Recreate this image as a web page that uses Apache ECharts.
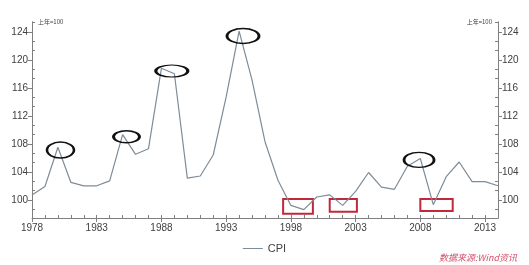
<!DOCTYPE html>
<html>
<head>
<meta charset="utf-8">
<script src="https://cdn.jsdelivr.net/npm/echarts@6/dist/echarts.min.js"></script>
<style>html,body{margin:0;padding:0;background:#fff;}#c{width:529px;height:265px;}</style>
</head>
<body>
<div id="c"></div>
<script>
// ---- data ----
var years = [1978,1979,1980,1981,1982,1983,1984,1985,1986,1987,1988,1989,1990,1991,1992,1993,1994,1995,1996,1997,1998,1999,2000,2001,2002,2003,2004,2005,2006,2007,2008,2009,2010,2011,2012,2013,2014];
var cpi = [100.7,101.9,107.5,102.5,102.0,102.0,102.7,109.3,106.5,107.3,118.8,118.0,103.1,103.4,106.4,114.7,124.1,117.1,108.3,102.8,99.2,98.6,100.4,100.7,99.2,101.2,103.9,101.8,101.5,104.8,105.9,99.3,103.3,105.4,102.6,102.6,102.0];
var xLabels = [1978,1983,1988,1993,1998,2003,2008,2013];
var yLabels = [100,104,108,112,116,120,124];
var seriesName = 'CPI';
var unitName = '上年=100';
var sourceText = '数据来源:Wind资讯';
// annotation anchors (year, value)
var ellipseAnchors = [[1980.2,107.1],[1985.3,109.0],[1988.8,118.4],[1994.3,123.4],[2007.9,105.7]];
var rectAnchors = [[[1997.4,100.1],[1999.7,98.0]],[[2001.0,100.1],[2003.1,98.3]],[[2008.0,100.1],[2010.5,98.4]]];

var ellipseSizes = [[27,16],[26,12],[32,12],[32,15],[30,15]];

var Y_MIN = 97.4, Y_MAX = 125.4, X_MIN = 1978, X_MAX = 2014;
var yearTicks = [];
for (var y = X_MIN; y <= X_MAX; y++) yearTicks.push(y);
var yMinor = [];
for (var i = 0; i < yLabels.length + 1; i++) {
  var base = 96 + i * 4;
  [base + 4/3, base + 8/3].forEach(function (v) { if (v > Y_MIN && v < Y_MAX) yMinor.push(v); });
}

var axisColor = '#7f7f7f';
var labelColor = '#404040';
var font = 'Liberation Sans, Arial, sans-serif';

function yAx(pos, major) {
  return {
    type: 'value', position: pos, min: Y_MIN, max: Y_MAX,
    axisLine: { show: true, onZero: false, lineStyle: { color: axisColor, width: 1 } },
    splitLine: { show: false },
    axisTick: major ? { show: true, inside: false, length: 4, customValues: yLabels, lineStyle: { color: axisColor } }
                    : { show: true, inside: true, length: 3, customValues: yMinor, lineStyle: { color: axisColor } },
    axisLabel: major ? { show: true, customValues: yLabels, margin: 4, color: labelColor, fontSize: 10, fontFamily: font }
                     : { show: false },
    name: major ? unitName : '',
    nameLocation: 'end', nameGap: 0,
    nameTextStyle: { fontSize: 6, color: labelColor, fontFamily: 'Noto Sans CJK SC, sans-serif',
      align: pos === 'left' ? 'left' : 'right', verticalAlign: 'middle',
      padding: pos === 'left' ? [0, 0, 0, 6] : [0, 6, 0, 0] }
  };
}

var chart = echarts.init(document.getElementById('c'), null, { renderer: 'canvas' });
chart.setOption({
  animation: false,
  backgroundColor: '#ffffff',
  grid: { left: 32, right: 31, top: 22, bottom: 47, containLabel: false },
  title: { text: sourceText, right: 12, top: 253, padding: 0,
    textStyle: { fontSize: 9, fontStyle: 'italic', fontWeight: 'normal', color: '#d2506a', fontFamily: 'Noto Sans CJK SC, sans-serif' } },
  legend: { left: 'center', top: 238, itemWidth: 20, itemHeight: 8, itemGap: 4,
    data: [{ name: seriesName, icon: 'path://M0,4 L20,4 L20,5 L0,5 Z' }],
    textStyle: { color: labelColor, fontSize: 11, fontFamily: font } },
  xAxis: [
    { type: 'value', position: 'bottom', min: X_MIN, max: X_MAX,
      axisLine: { show: true, onZero: false, lineStyle: { color: axisColor } },
      splitLine: { show: false },
      axisTick: { show: true, inside: true, length: 3, customValues: yearTicks, lineStyle: { color: axisColor } },
      axisLabel: { show: true, customValues: xLabels, margin: 5, color: labelColor, fontSize: 10, fontFamily: font,
        formatter: function (v) { return String(v); } } },
    { type: 'value', position: 'bottom', min: X_MIN, max: X_MAX,
      axisLine: { show: false, onZero: false },
      splitLine: { show: false },
      axisTick: { show: true, inside: false, length: 4, customValues: xLabels, lineStyle: { color: axisColor } },
      axisLabel: { show: false } }
  ],
  yAxis: [yAx('left', true), yAx('left', false), yAx('right', true), yAx('right', false)],
  series: [{
    name: seriesName, type: 'line', xAxisIndex: 0, yAxisIndex: 0,
    data: years.map(function (y, i) { return [y, cpi[i]]; }),
    symbol: 'none', showSymbol: false,
    lineStyle: { color: '#7d8c99', width: 1.2 },
    itemStyle: { color: '#7d8c99' },
    markPoint: {
      silent: true, label: { show: false }, symbol: 'circle',
      itemStyle: { color: 'rgba(0,0,0,0)', borderColor: '#111', borderWidth: 2 },
      data: ellipseAnchors.map(function (a, i) { return { coord: a, symbolSize: ellipseSizes[i] }; })
    },
    markArea: {
      silent: true, label: { show: false },
      itemStyle: { color: 'rgba(0,0,0,0)', borderColor: '#c0293a', borderWidth: 2 },
      data: rectAnchors.map(function (r) { return [{ coord: r[0] }, { coord: r[1] }]; })
    }
  }]
});
</script>
</body>
</html>
